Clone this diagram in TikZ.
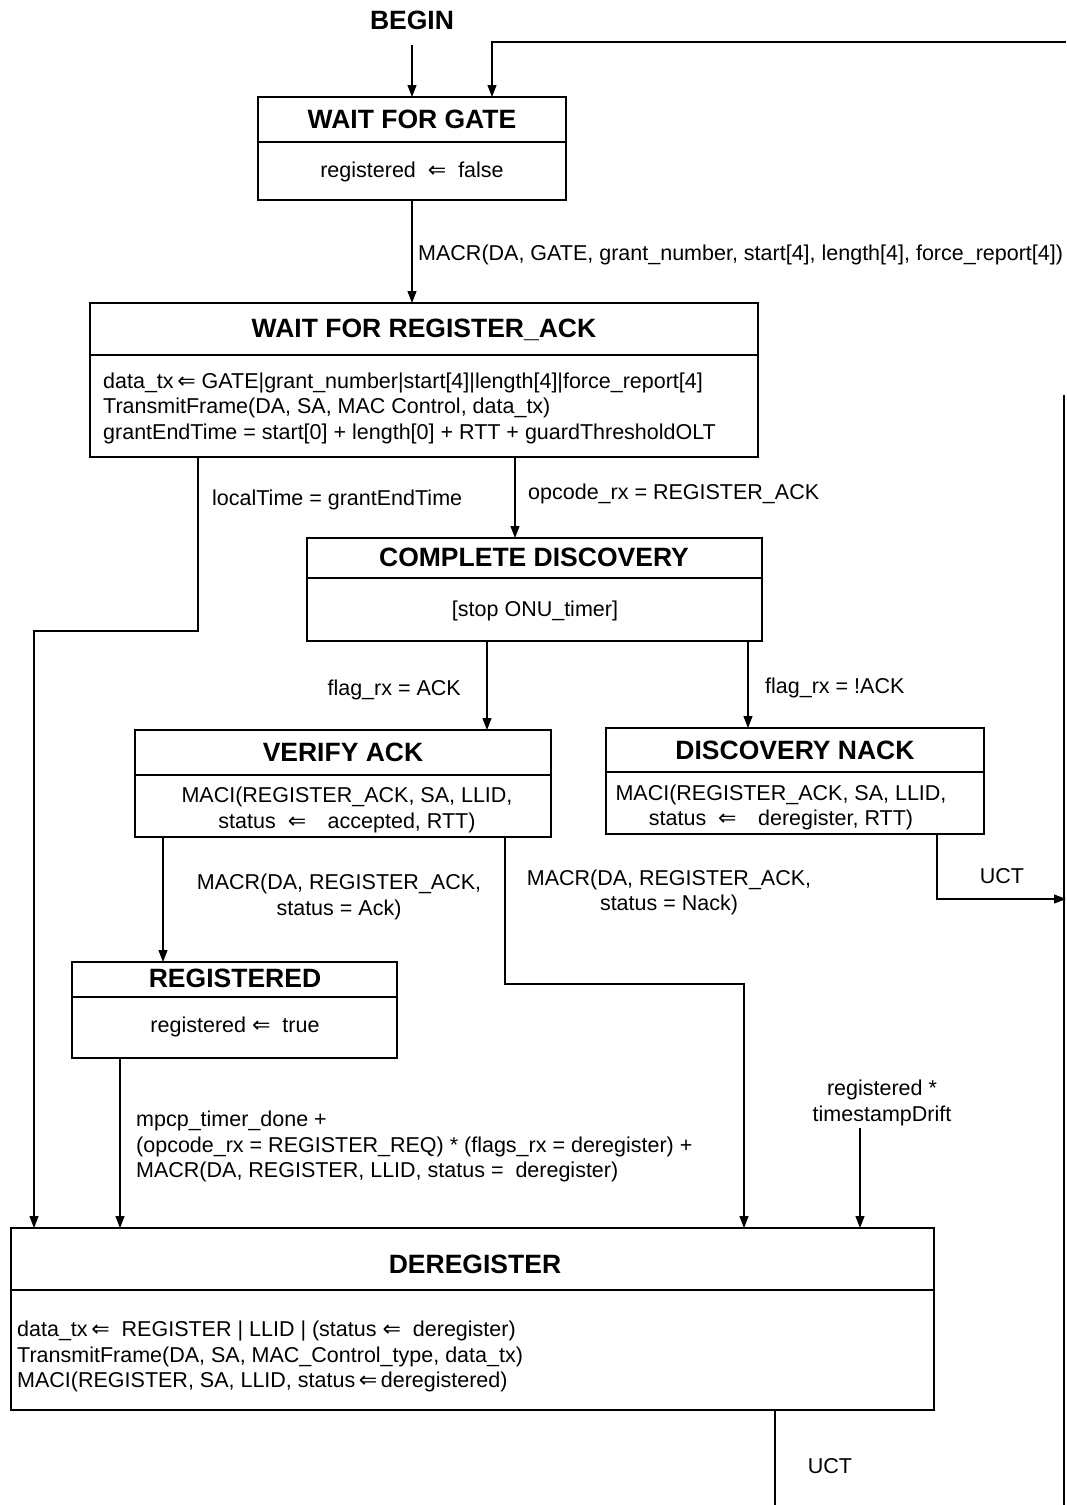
\documentclass[tikz,border=0pt]{standalone}
\usepackage{fontspec}
\setmainfont{Liberation Sans}
\newfontfamily\arrowfont{DejaVu Sans}
\usetikzlibrary{arrows.meta}

\tikzset{
  box/.style={draw, line width=1.3pt, inner sep=0pt, outer sep=0pt},
  divider/.style={line width=1.3pt},
  ttl/.style={font=\fontsize{26.5}{30}\selectfont\bfseries, inner sep=0pt},
  txt/.style={font=\fontsize{21.5}{25.5}\selectfont, inner sep=0pt},
  wire/.style={line width=1.1pt},
  arr/.style={wire, -{Triangle[length=12pt,width=9pt]}},
}
\newcommand{\lft}{{\arrowfont\fontsize{22}{22}\selectfont ⇐}}

\begin{document}
\begin{tikzpicture}[x=1pt,y=-1pt]
\useasboundingbox (0,0) rectangle (1066,1505);

\node[ttl] (begin) at (412,20) {BEGIN};

\node[box, minimum width=308pt, minimum height=103pt] (wfg) at (412,148.5) {};
\draw[divider] (258,142) -- (566,142);
\node[ttl] (wfgtitle) at (412,119) {WAIT FOR GATE};
\node[txt] (wfgbody) at (412,171.5) {registered \ \lft\ \ false};

\node[box, minimum width=668pt, minimum height=154pt] (wfra) at (424,380) {};
\draw[divider] (90,355) -- (758,355);
\node[ttl] (wfratitle) at (424,330) {WAIT FOR REGISTER\_ACK};
\node[txt, anchor=west, align=left] (wfrabody) at (103,408)
  {data\_tx\,\lft\ GATE|grant\_number|start[4]|length[4]|force\_report[4]\\
   TransmitFrame(DA, SA, MAC Control, data\_tx)\\
   grantEndTime = start[0] + length[0] + RTT + guardThresholdOLT};

\node[box, minimum width=455pt, minimum height=103pt] (cd) at (534.5,589.5) {};
\draw[divider] (307,578) -- (762,578);
\node[ttl] (cdtitle) at (534,557) {COMPLETE DISCOVERY};
\node[txt] (cdbody) at (535,610.5) {[stop ONU\_timer]};

\node[box, minimum width=416pt, minimum height=107pt] (va) at (343,783.5) {};
\draw[divider] (135,775) -- (551,775);
\node[ttl] (vatitle) at (343,752) {VERIFY ACK};
\node[txt, align=center] (vabody) at (347,810)
  {MACI(REGISTER\_ACK, SA, LLID,\\ status \ \lft\quad accepted, RTT)};

\node[box, minimum width=378pt, minimum height=106pt] (dn) at (795,781) {};
\draw[divider] (606,772) -- (984,772);
\node[ttl] (dntitle) at (795,750) {DISCOVERY NACK};
\node[txt, align=center] (dnbody) at (781,807.5)
  {MACI(REGISTER\_ACK, SA, LLID,\\ status \ \lft\quad deregister, RTT)};

\node[box, minimum width=325pt, minimum height=96pt] (reg) at (234.5,1010) {};
\draw[divider] (72,997) -- (397,997);
\node[ttl] (regtitle) at (235,978) {REGISTERED};
\node[txt] (regbody) at (235,1026.5) {registered \lft\ \ true};

\node[box, minimum width=923pt, minimum height=182pt] (dereg) at (472.5,1319) {};
\draw[divider] (11,1290) -- (934,1290);
\node[ttl] (deregtitle) at (475,1264) {DEREGISTER};
\node[txt, anchor=west, align=left] (deregbody) at (17,1356.5)
  {data\_tx\,\lft\ \ REGISTER | LLID | (status \lft\ \ deregister)\\
   TransmitFrame(DA, SA, MAC\_Control\_type, data\_tx)\\
   MACI(REGISTER, SA, LLID, status\,\lft\,deregistered)};

\coordinate (begout) at (412,45);
\coordinate (loopin) at (1066,42);
\coordinate (wfgloop) at (492,97);
\coordinate (wfgout) at (412,200);
\coordinate (timeout) at (198,457);
\coordinate (timebend) at (198,631);
\coordinate (deregleft) at (34,1228);
\coordinate (ackout) at (515,457);
\coordinate (cdack) at (487,641);
\coordinate (cdnack) at (748,641);
\coordinate (dnout) at (937,834);
\coordinate (railuct) at (1066,899);
\coordinate (railtop) at (1064,395);
\coordinate (railbot) at (1064,1505);
\coordinate (vareg) at (163,837);
\coordinate (vanack) at (505,837);
\coordinate (nackbend) at (505,984);
\coordinate (deregnack) at (744,1228);
\coordinate (regout) at (120,1058);
\coordinate (driftin) at (860,1128);
\coordinate (deregout) at (775,1410);
\coordinate (uctend) at (775,1505);

\draw[arr] (begout) -- (begout |- wfg.north);
\draw[arr] (loopin) -| (wfgloop);
\draw[arr] (wfgout) -- (wfgout |- wfra.north);
\draw[arr] (timeout) -- (timebend) -| (deregleft);
\draw[arr] (ackout) -- (ackout |- cd.north);
\draw[arr] (cdack) -- (cdack |- va.north);
\draw[arr] (cdnack) -- (cdnack |- dn.north);
\draw[arr] (dnout) |- (railuct);
\draw[wire] (railtop) -- (railbot);
\draw[arr] (vareg) -- (vareg |- reg.north);
\draw[arr] (vanack) -- (nackbend) -| (deregnack);
\draw[arr] (regout) -- (regout |- dereg.north);
\draw[arr] (driftin) -- (driftin |- dereg.north);
\draw[wire] (deregout) -- (uctend);

\node[txt, anchor=west] (gatelbl) at (418,254.5)
  {MACR(DA, GATE, grant\_number, start[4], length[4], force\_report[4])};
\node[txt, anchor=west] (timelbl) at (212,499.5) {localTime = grantEndTime};
\node[txt, anchor=west] (acklbl) at (528,493.5) {opcode\_rx = REGISTER\_ACK};
\node[txt, anchor=east] (flaglbl) at (461,689.5) {flag\_rx = ACK};
\node[txt, anchor=west] (nflaglbl) at (765,687.5) {flag\_rx = !ACK};
\node[txt, align=center] (oklbl) at (339,897) {MACR(DA, REGISTER\_ACK,\\ status = Ack)};
\node[txt, align=center] (noklbl) at (669,892.5) {MACR(DA, REGISTER\_ACK,\\ status = Nack)};
\node[txt] (uctlbl) at (1002,876) {UCT};
\node[txt, anchor=west, align=left] (timerlbl) at (136,1146.5)
  {mpcp\_timer\_done +\\
   (opcode\_rx = REGISTER\_REQ) * (flags\_rx = deregister) +\\
   MACR(DA, REGISTER, LLID, status = \ deregister)};
\node[txt, align=center] (driftlbl) at (882,1103) {registered *\\ timestampDrift};
\node[txt] (uctlbl2) at (830,1466) {UCT};
\end{tikzpicture}
\end{document}
